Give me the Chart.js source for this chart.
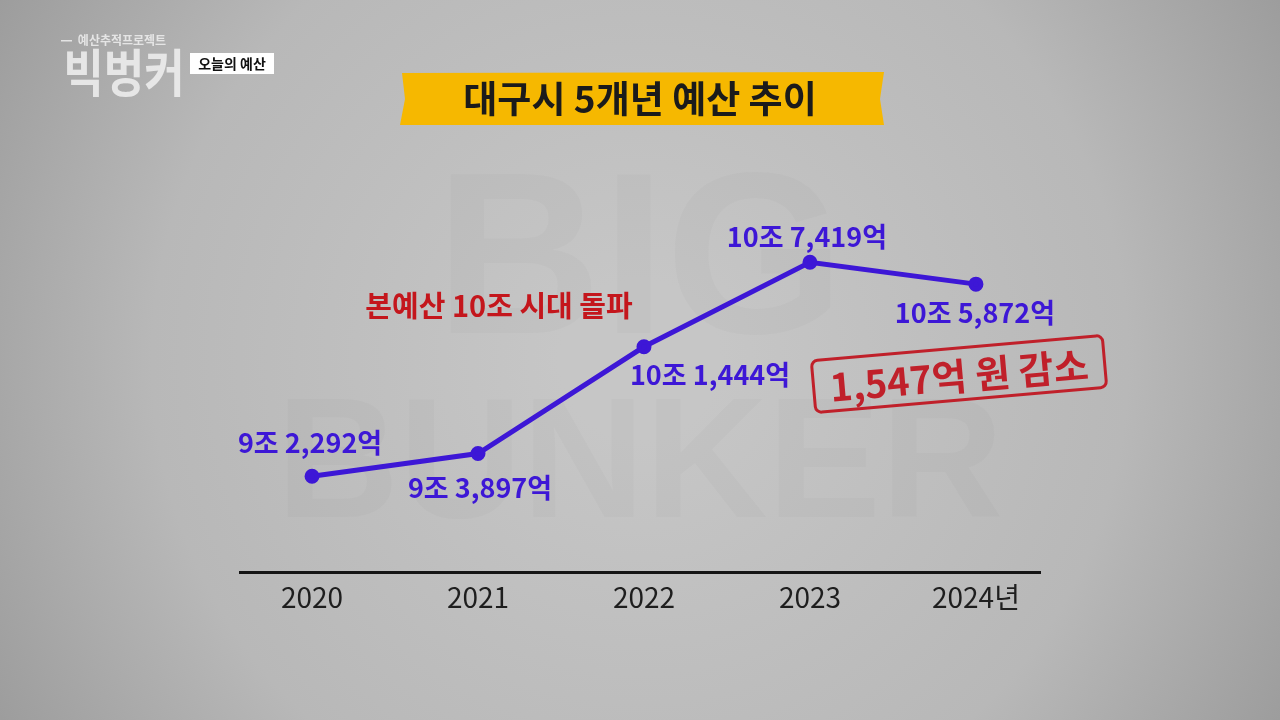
<!DOCTYPE html>
<html lang="ko">
<head>
  <meta charset="UTF-8" />
  <title>대구시 5개년 예산 추이</title>
  <script src="https://cdn.jsdelivr.net/npm/chart.js"></script>
  <style>
    html, body { margin: 0; padding: 0; background: #b9b9b9; }
    #wrap { width: 1280px; height: 720px; position: relative; }
  </style>
</head>
<body>
<div id="wrap">
  <canvas id="budgetChart" width="1280" height="720"></canvas>
</div>

<script>
  // 대구시 본예산 (단위: 억 원)
  const years = [2020, 2021, 2022, 2023, 2024];
  const budget = [92292, 93897, 101444, 107419, 105872];
  const yearLabels = ['2020', '2021', '2022', '2023', '2024년'];

  const KR = '"Noto Sans CJK KR", "Noto Sans", sans-serif';
  const lineColor = '#3d17d6';

  // 92292 -> "9조 2,292억"
  function toJoEok(v) {
    const jo = Math.floor(v / 10000);
    const eok = v % 10000;
    return jo + '조 ' + eok.toLocaleString('en-US') + '억';
  }

  // background: concrete-ish gray
  const backdrop = {
    id: 'backdrop',
    beforeDraw(chart) {
      const { ctx, width, height } = chart;
      ctx.save();
      const g = ctx.createRadialGradient(640, 360, 80, 640, 360, 760);
      g.addColorStop(0, '#c6c6c6');
      g.addColorStop(0.6, '#b8b8b8');
      g.addColorStop(1, '#9a9a9a');
      ctx.fillStyle = g;
      ctx.fillRect(0, 0, width, height);

      // faint watermark
      ctx.fillStyle = 'rgba(120,120,120,0.045)';
      ctx.font = 'bold 230px "Liberation Sans", sans-serif';
      ctx.textAlign = 'center';
      ctx.textBaseline = 'middle';
      ctx.fillText('BIG', 640, 270);
      ctx.font = 'bold 170px "Liberation Sans", sans-serif';
      ctx.fillText('BUNKER', 640, 470);
      ctx.restore();
    }
  };

  // title banner, logo, value labels, notes
  const decorations = {
    id: 'decorations',
    afterDatasetsDraw(chart, args, opts) {
      const { ctx } = chart;
      ctx.save();
      ctx.textAlign = 'center';
      ctx.textBaseline = 'middle';

      // yellow tape title
      ctx.fillStyle = '#f6b800';
      ctx.beginPath();
      ctx.moveTo(402, 73);
      ctx.lineTo(884, 72);
      ctx.lineTo(880, 99);
      ctx.lineTo(884, 125);
      ctx.lineTo(400, 125);
      ctx.lineTo(405, 99);
      ctx.closePath();
      ctx.fill();
      ctx.fillStyle = '#1b1b1b';
      ctx.font = 'bold 37px ' + KR;
      ctx.fillText('대구시 5개년 예산 추이', 640, 99);

      // logo
      ctx.fillStyle = 'rgba(235,235,235,0.9)';
      ctx.font = 'bold 12px ' + KR;
      ctx.fillText('예산추적프로젝트', 122, 40);
      ctx.fillRect(61, 40, 11, 1.5);
      ctx.save();
      ctx.translate(124, 73);
      ctx.scale(1, 1.15);
      ctx.font = 'bold 44px ' + KR;
      ctx.fillStyle = 'rgba(238,238,238,0.88)';
      ctx.fillText('빅벙커', 0, 0);
      ctx.restore();
      ctx.fillStyle = '#ffffff';
      ctx.fillRect(190, 53, 84, 21);
      ctx.fillStyle = '#111';
      ctx.font = 'bold 14px ' + KR;
      ctx.fillText('오늘의 예산', 232, 63.5);

      // value labels next to each point
      const meta = chart.getDatasetMeta(0);
      ctx.fillStyle = lineColor;
      ctx.font = 'bold 27px ' + KR;
      meta.data.forEach((pt, i) => {
        const [dx, dy] = opts.offsets[i];
        ctx.fillText(toJoEok(budget[i]), pt.x + dx, pt.y + dy);
      });

      // red note
      ctx.fillStyle = '#c4161c';
      ctx.font = 'bold 29px ' + KR;
      ctx.fillText('본예산 10조 시대 돌파', 499, 306);

      // stamp
      ctx.save();
      ctx.translate(959, 374);
      ctx.rotate(-5 * Math.PI / 180);
      ctx.strokeStyle = '#c0202a';
      ctx.lineWidth = 3;
      ctx.beginPath();
      ctx.roundRect(-146, -26, 292, 52, 6);
      ctx.stroke();
      ctx.fillStyle = '#c0202a';
      ctx.font = 'bold 38px ' + KR;
      ctx.fillText((budget[3] - budget[4]).toLocaleString('en-US') + '억 원 감소', 0, 2);
      ctx.restore();

      ctx.restore();
    }
  };

  const ctx = document.getElementById('budgetChart').getContext('2d');
  new Chart(ctx, {
    type: 'line',
    data: {
      datasets: [{
        data: years.map((y, i) => ({ x: y, y: budget[i] })),
        borderColor: lineColor,
        backgroundColor: lineColor,
        borderWidth: 5,
        pointRadius: 5,
        pointHoverRadius: 5,
        tension: 0
      }]
    },
    options: {
      responsive: false,
      animation: false,
      layout: { padding: { left: 240, right: 240, top: 200, bottom: 98 } },
      plugins: {
        legend: { display: false },
        tooltip: { enabled: false },
        decorations: {
          offsets: [[-2, -33], [2, 34], [66, 28], [-3, -26], [-1, 29]]
        }
      },
      scales: {
        x: {
          type: 'linear',
          min: 2019.566,
          max: 2024.386,
          grid: { display: false, drawTicks: false, tickLength: 0 },
          border: { display: true, color: '#151515', width: 3 },
          ticks: {
            stepSize: 1,
            includeBounds: false,
            padding: 8,
            color: '#1e1e1e',
            font: { family: KR, size: 28 },
            callback: (v) => {
              const i = years.indexOf(v);
              return i >= 0 ? yearLabels[i] : '';
            }
          }
        },
        y: {
          display: false,
          min: 85492,
          max: 111821
        }
      }
    },
    plugins: [backdrop, decorations]
  });
</script>
</body>
</html>
